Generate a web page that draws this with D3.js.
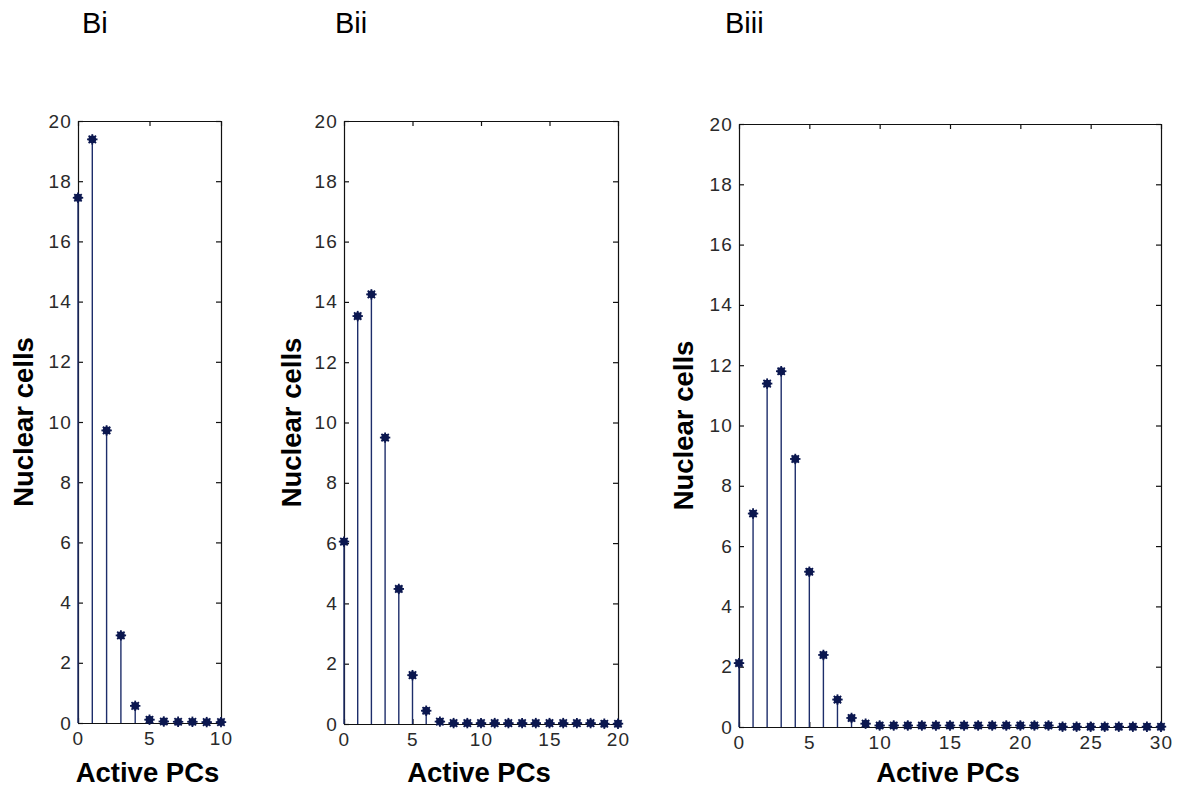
<!DOCTYPE html>
<html>
<head>
<meta charset="utf-8">
<script src="https://cdn.jsdelivr.net/npm/d3@7"></script>
<style>
  html, body { margin: 0; padding: 0; background: #fff; }
  svg { display: block; }
  .tick text { font-family: "Liberation Sans", Arial, sans-serif; font-size: 19px; fill: #2a2a2a; letter-spacing: 1.2px; }
  .axis-title { font-family: "Liberation Sans", Arial, sans-serif; font-weight: bold; font-size: 27.5px; fill: #000; }
  .panel-title { font-family: "Liberation Sans", Arial, sans-serif; font-size: 29px; fill: #000; }
</style>
</head>
<body>
<script>
// Mean number of nuclear cells per number of active PCs
const panelNames = ["Bi", "Bii", "Biii"];

const biValues = [17.45, 19.39, 9.72, 2.91, 0.57, 0.11, 0.05, 0.04, 0.04, 0.03, 0.03];

const biiValues = [6.05, 13.53, 14.25, 9.5, 4.48, 1.62, 0.44, 0.08, 0.03, 0.03,
  0.03, 0.03, 0.03, 0.03, 0.03, 0.03, 0.03, 0.03, 0.03, 0.01, 0.01];

const biiiValues = [2.12, 7.08, 11.39, 11.8, 8.89, 5.15, 2.39, 0.91, 0.3, 0.11,
  0.05, 0.05, 0.05, 0.05, 0.05, 0.05, 0.05, 0.05, 0.05, 0.05, 0.05, 0.05, 0.05,
  0.01, 0.01, 0.01, 0.01, 0.01, 0.01, 0.01, 0.01];

const yTicks = [0, 2, 4, 6, 8, 10, 12, 14, 16, 18, 20];
const biXTicks = [0, 5, 10];
const biiXTicks = [0, 5, 10, 15, 20];
const biiiXTicks = [0, 5, 10, 15, 20, 25, 30];

const xLabel = "Active PCs";
const yLabel = "Nuclear cells";

const W = 1177, H = 791;
const svg = d3.select("body").append("svg").attr("width", W).attr("height", H);

const panels = [
  { name: panelNames[0], values: biValues, xTicks: biXTicks, xMax: 10,
    left: 78, right: 221, top: 121, bottom: 723, titleX: 82, yTitleX: 33 },
  { name: panelNames[1], values: biiValues, xTicks: biiXTicks, xMax: 20,
    left: 344, right: 618, top: 121, bottom: 724, titleX: 335, yTitleX: 301 },
  { name: panelNames[2], values: biiiValues, xTicks: biiiXTicks, xMax: 30,
    left: 739, right: 1161, top: 124, bottom: 727, titleX: 725, yTitleX: 693 }
];

const stemColor = "#1d2d6a";
const markColor = "#0c1850";

panels.forEach(p => {
  const x = d3.scaleLinear().domain([0, p.xMax]).range([p.left, p.right]);
  const y = d3.scaleLinear().domain([0, 20]).range([p.bottom, p.top]);
  const g = svg.append("g");

  // panel letter
  svg.append("text").attr("class", "panel-title")
    .attr("x", p.titleX).attr("y", 33).text(p.name);

  // box axes with inward ticks on all four sides
  const tick = 5;
  g.append("g").attr("transform", `translate(0,${p.bottom})`)
    .call(d3.axisBottom(x).tickValues(p.xTicks).tickSizeInner(-tick).tickSizeOuter(0).tickPadding(9).tickFormat(d3.format("d")));
  g.append("g").attr("transform", `translate(${p.left},0)`)
    .call(d3.axisLeft(y).tickValues(yTicks).tickSizeInner(-tick).tickSizeOuter(0).tickPadding(6).tickFormat(d3.format("d")));
  g.append("g").attr("transform", `translate(0,${p.top})`)
    .call(d3.axisTop(x).tickValues(p.xTicks).tickSizeInner(-tick).tickSizeOuter(0).tickFormat(""));
  g.append("g").attr("transform", `translate(${p.right},0)`)
    .call(d3.axisRight(y).tickValues(yTicks).tickSizeInner(-tick).tickSizeOuter(0).tickFormat(""));
  g.selectAll(".domain, .tick line").attr("stroke", "#111").attr("stroke-width", 1.2);

  // stems
  const pts = p.values.map((v, i) => ({ i, v }));
  g.selectAll("line.stem").data(pts).join("line").attr("class", "stem")
    .attr("x1", d => x(d.i)).attr("x2", d => x(d.i))
    .attr("y1", y(0)).attr("y2", d => y(d.v))
    .attr("stroke", stemColor).attr("stroke-width", 1.4);

  // asterisk markers
  const mk = g.selectAll("g.mark").data(pts).join("g").attr("class", "mark")
    .attr("transform", d => `translate(${x(d.i)},${y(d.v)})`);
  mk.append("circle").attr("r", 3.9).attr("fill", markColor);
  [0, 45, 90, 135].forEach(a => {
    mk.append("line").attr("x1", -5.2).attr("x2", 5.2).attr("y1", 0).attr("y2", 0)
      .attr("transform", `rotate(${a})`)
      .attr("stroke", markColor).attr("stroke-width", 1.8);
  });

  // axis titles
  svg.append("text").attr("class", "axis-title")
    .attr("x", (p.left + p.right) / 2 - 2).attr("y", 782)
    .attr("text-anchor", "middle").text(xLabel);
  svg.append("text").attr("class", "axis-title")
    .attr("transform", `translate(${p.yTitleX},${(p.top + p.bottom) / 2}) rotate(-90)`)
    .attr("text-anchor", "middle").text(yLabel);
});
</script>
</body>
</html>
